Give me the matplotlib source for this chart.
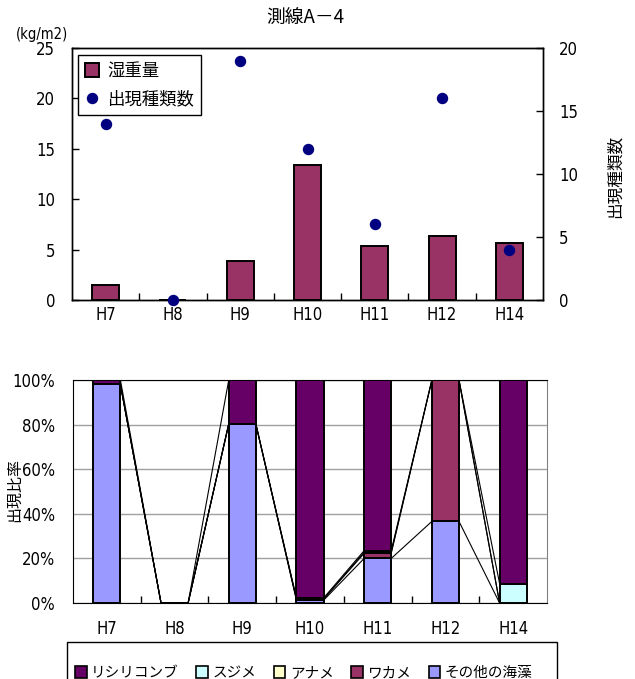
import numpy as np
import matplotlib
matplotlib.use("Agg")
import matplotlib.pyplot as plt
from matplotlib import font_manager
from matplotlib.patches import Patch, Rectangle
from matplotlib.lines import Line2D

# ---- data ----
years = ["H7", "H8", "H9", "H10", "H11", "H12", "H14"]
wet_weight = [1.5, 0.0, 3.9, 13.4, 5.4, 6.3, 5.7]          # kg/m2
species_count = [14, 0, 19, 12, 6, 16, 4]

share_rishiri = [2.0, 0.0, 19.7, 97.8, 76.5, 0.0, 91.3]    # リシリコンブ
share_sujime = [0.0, 0.0, 0.0, 0.5, 0.7, 0.0, 8.7]         # スジメ
share_aname = [0.0, 0.0, 0.0, 0.0, 0.5, 0.0, 0.0]          # アナメ
share_wakame = [0.0, 0.0, 0.0, 0.5, 2.3, 63.4, 0.0]        # ワカメ
share_other = [98.0, 0.0, 80.3, 1.2, 20.0, 36.6, 0.0]      # その他の海藻

left_ticks = [0, 5, 10, 15, 20, 25]
right_ticks = [0, 5, 10, 15, 20]
pct_ticks = [0, 20, 40, 60, 80, 100]

# ---- fonts: prefer a condensed sans for numbers ----
fm_list = font_manager.fontManager.ttflist
names = {f.name for f in fm_list}
NUM, NUM_STRETCH, NUM_SIZE = "Liberation Sans", "normal", 11
for cand in ("Liberation Sans Narrow", "DejaVu Sans Condensed", "Arial Narrow"):
    if cand in names:
        NUM, NUM_STRETCH, NUM_SIZE = cand, "normal", 12
        break
else:
    for f in fm_list:
        if f.name in ("Liberation Sans", "DejaVu Sans") and f.stretch in ("condensed", "semi-condensed") \
                and f.weight in ("normal", 400, "regular", "book"):
            NUM, NUM_STRETCH, NUM_SIZE = f.name, f.stretch, 12
            break

CJK = ["Noto Sans CJK JP", "DejaVu Sans"]
plt.rcParams["font.family"] = [NUM, "Noto Sans CJK JP", "DejaVu Sans"]
plt.rcParams["font.stretch"] = NUM_STRETCH

W, H = 635, 679
fig = plt.figure(figsize=(W / 100, H / 100), dpi=100)


def frame(x0, y0, x1, y1):
    return [x0 / W, 1 - y1 / H, (x1 - x0) / W, (y1 - y0) / H]


x = np.arange(len(years))
bar_w = 0.4

# ---- upper panel: wet weight bars + species count dots ----
ax = fig.add_axes(frame(72, 48, 543, 300))
ax2 = ax.twinx()
ax.bar(x, wet_weight, width=bar_w, color="#993366", edgecolor="black",
       linewidth=1.4, zorder=2)
ax2.scatter(x, species_count, s=52, color="#000080", zorder=3, clip_on=False)

ax.set_xlim(-0.5, len(years) - 0.5)
ax.set_ylim(0, 25)
ax.set_yticks(left_ticks)
ax2.set_ylim(0, 20)
ax2.set_yticks(right_ticks)
ax.set_xticks(x, years)
ax.set_xticks(np.arange(0.5, len(years) - 1, 1), minor=True)
ax.tick_params(axis="x", which="major", length=0, pad=4, labelsize=NUM_SIZE)
ax.tick_params(axis="x", which="minor", direction="in", length=5, width=1)
ax.tick_params(axis="y", direction="in", length=5, width=1, pad=12, labelsize=NUM_SIZE)
ax2.tick_params(axis="y", direction="in", length=5, width=1, pad=11.5, labelsize=NUM_SIZE)
for sp in list(ax.spines.values()) + list(ax2.spines.values()):
    sp.set_color("black")
    sp.set_linewidth(1)

leg_handles = [
    Patch(facecolor="#993366", edgecolor="black", linewidth=1.4),
    Line2D([], [], marker="o", linestyle="", color="#000080", markersize=7.2),
]
leg = ax2.legend(leg_handles, ["湿重量", "出現種類数"], loc="upper left",
                 bbox_to_anchor=(0.0127, 0.972), frameon=True, fancybox=False,
                 edgecolor="black", framealpha=1, prop={"family": CJK, "size": 12.5},
                 handlelength=0.8, handleheight=0.8, borderpad=0.4,
                 labelspacing=0.6, handletextpad=0.5, borderaxespad=0)
leg.get_frame().set_linewidth(1)

fig.text(305 / W, 1 - 18 / H, "測線A－4", ha="center", va="center",
         fontsize=13.5, family=CJK)
fig.text(42 / W, 1 - 34 / H, "(kg/m2)", ha="center", va="center",
         fontsize=NUM_SIZE - 1.5)
fig.text(615 / W, 1 - 176 / H, "出現種類数", rotation=90, ha="center",
         va="center", fontsize=12, family=CJK)

# ---- lower panel: 100% stacked composition ----
bx = fig.add_axes(frame(73, 380, 547, 603))
series = [
    ("その他の海藻", share_other, "#9999FF"),
    ("ワカメ", share_wakame, "#993366"),
    ("アナメ", share_aname, "#FFFFCC"),
    ("スジメ", share_sujime, "#CCFFFF"),
    ("リシリコンブ", share_rishiri, "#660066"),
]
bottom = np.zeros(len(years))
for name, vals, col in series:
    vals = np.asarray(vals, dtype=float)
    bx.bar(x, vals, bottom=bottom, width=bar_w, color=col, edgecolor="black",
           linewidth=1.4, zorder=3)
    top = bottom + vals
    # series lines joining the segment tops of neighbouring columns
    for i in range(len(years) - 1):
        bx.plot([x[i] + bar_w / 2, x[i + 1] - bar_w / 2], [top[i], top[i + 1]],
                color="black", linewidth=0.8, zorder=2)
    bottom = top

bx.set_xlim(-0.5, len(years) - 0.5)
bx.set_ylim(0, 100)
bx.set_yticks(pct_ticks, [f"{v}%" for v in pct_ticks])
bx.yaxis.grid(True, color="#A0A0A0", linewidth=1)
bx.set_axisbelow(True)
bx.set_xticks(x, years)
bx.set_xticks(np.arange(0.5, len(years) - 1, 1), minor=True)
bx.tick_params(axis="x", which="major", length=0, pad=12, labelsize=NUM_SIZE)
bx.tick_params(axis="x", which="minor", direction="in", length=5, width=1)
bx.tick_params(axis="y", length=0, pad=13, labelsize=NUM_SIZE)
for k in ("left", "bottom", "top"):
    bx.spines[k].set_color("black")
bx.spines["right"].set_color("#808080")
fig.text(15 / W, 1 - 490 / H, "出現比率", rotation=90, ha="center",
         va="center", fontsize=11.5, family=CJK)

# legend box along the bottom edge
fig.patches.append(Rectangle((67 / W, 1 - 700 / H), 490 / W, 58 / H,
                             transform=fig.transFigure, facecolor="white",
                             edgecolor="black", linewidth=1))
legend_order = [series[4], series[3], series[2], series[1], series[0]]
handles = [Patch(facecolor=c, edgecolor="black", linewidth=1.2)
           for _, _, c in legend_order]
fig.legend(handles, [n for n, _, _ in legend_order], ncol=5, loc="center left",
           bbox_to_anchor=(75 / W, 1 - 673 / H), frameon=False,
           prop={"family": CJK, "size": 10.5}, handlelength=0.8,
           handleheight=0.8, handletextpad=0.3, columnspacing=1.2,
           borderpad=0, borderaxespad=0)

fig.savefig("out.png", dpi=100)
